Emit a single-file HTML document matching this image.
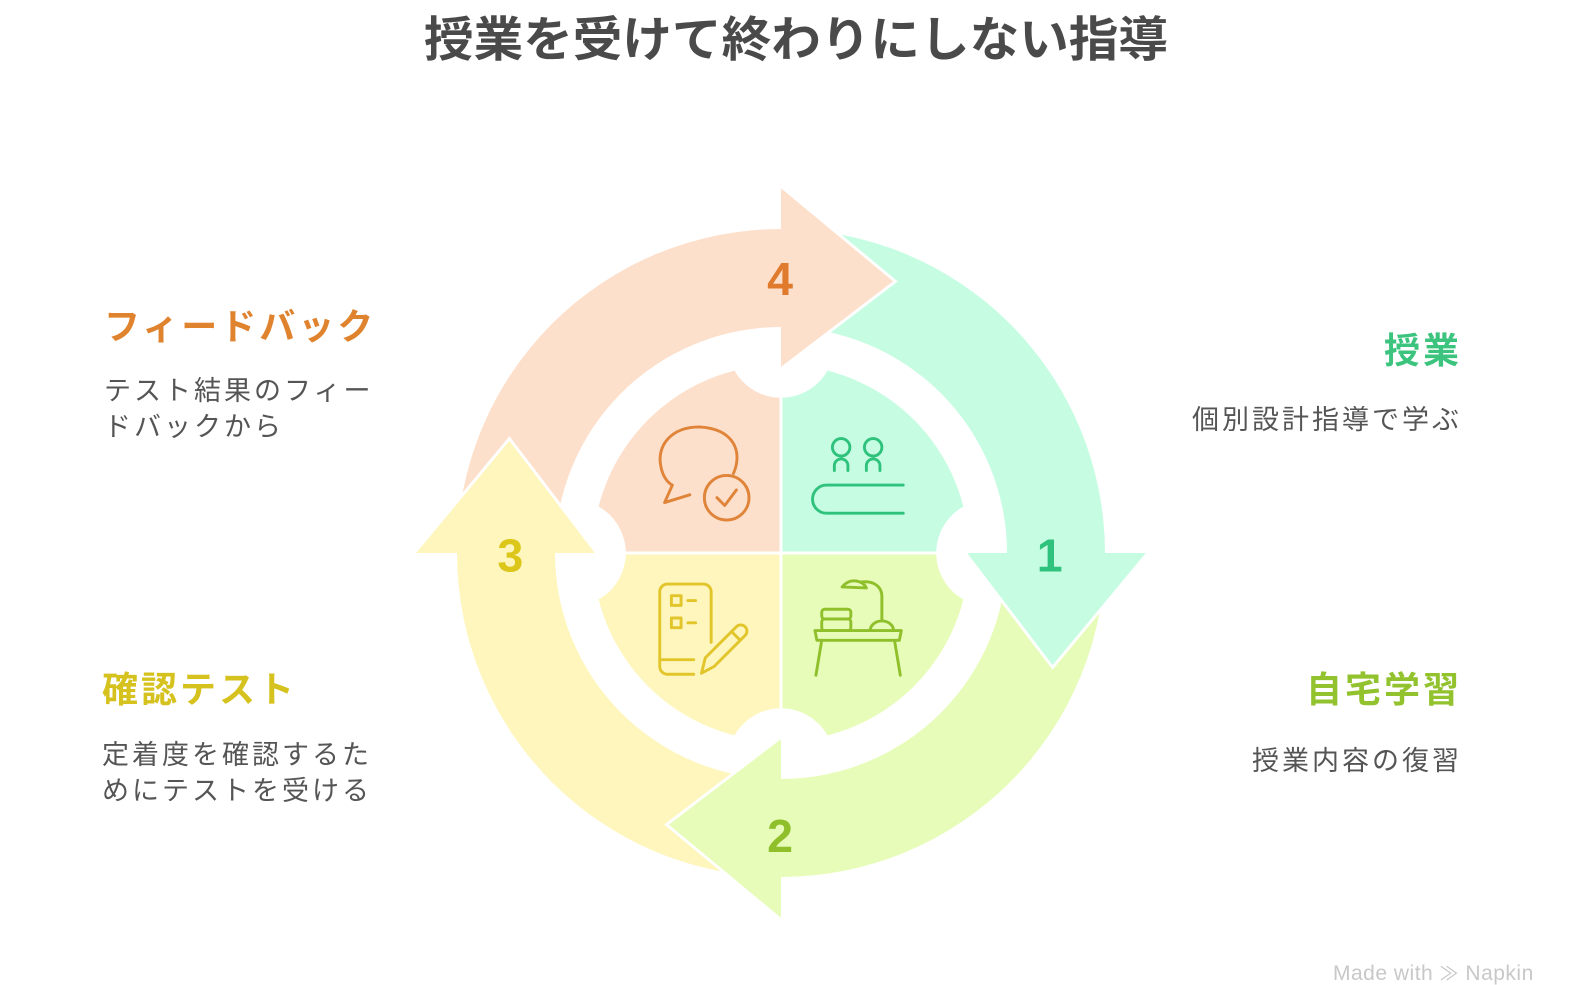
<!DOCTYPE html>
<html><head><meta charset="utf-8"><style>
body{margin:0;background:#fff;width:1584px;height:982px;overflow:hidden;position:relative;font-family:"Liberation Sans","Noto Sans CJK JP",sans-serif}
.t{position:absolute;white-space:nowrap;line-height:1}
</style></head><body>

<div class="t" style="left:104px;top:309px;font-size:36px;font-weight:bold;color:#e0832e;letter-spacing:3px">フィードバック</div>
<div class="t" style="left:104px;top:378px;font-size:27px;color:#555;letter-spacing:3px">テスト結果のフィー</div>
<div class="t" style="left:104px;top:414px;font-size:27px;color:#555;letter-spacing:3px">ドバックから</div>

<div class="t" style="left:102px;top:672px;font-size:36px;font-weight:bold;color:#d6c21e;letter-spacing:3px">確認テスト</div>
<div class="t" style="left:102px;top:742px;font-size:27px;color:#555;letter-spacing:3px">定着度を確認するた</div>
<div class="t" style="left:102px;top:778px;font-size:27px;color:#555;letter-spacing:3px">めにテストを受ける</div>

<div class="t" style="right:122px;top:333px;font-size:36px;font-weight:bold;color:#3cc47f;letter-spacing:3px">授業</div>
<div class="t" style="right:122px;top:407px;font-size:27px;color:#555;letter-spacing:3px">個別設計指導で学ぶ</div>

<div class="t" style="right:122px;top:672px;font-size:36px;font-weight:bold;color:#92c22e;letter-spacing:3px">自宅学習</div>
<div class="t" style="right:122px;top:748px;font-size:27px;color:#555;letter-spacing:3px">授業内容の復習</div>

<div class="t" style="left:1333px;top:963px;font-size:21px;color:#c8c8c8;letter-spacing:0.5px">Made with <span style="font-size:19px">≫</span> Napkin</div>

<svg width="1584" height="982" style="position:absolute;left:0;top:0">
<text x="424" y="56" font-size="48" font-weight="bold" fill="#4a4a4a" textLength="744" lengthAdjust="spacingAndGlyphs" font-family="Liberation Sans, Noto Sans CJK JP, sans-serif">授業を受けて終わりにしない指導</text>
<g transform="translate(781,553) scale(0.97) translate(-784,-560)">
<path d="M784 560 L784 366 A194 194 0 0 0 590 560 Z" fill="#fde0cb"/>
<path d="M784 560 L784 366 A194 194 0 0 1 978 560 Z" fill="#c6fde2"/>
<path d="M784 560 L978 560 A194 194 0 0 1 784 754 Z" fill="#e7fcb8"/>
<path d="M784 560 L784 754 A194 194 0 0 1 590 560 Z" fill="#fef6bc"/>
<line x1="784" y1="340" x2="784" y2="780" stroke="#fff" stroke-width="3"/>
<line x1="564" y1="560" x2="1004" y2="560" stroke="#fff" stroke-width="3"/>
<circle cx="784" cy="345" r="55" fill="#fff"/>
<circle cx="784" cy="775" r="55" fill="#fff"/>
<circle cx="569" cy="560" r="55" fill="#fff"/>
<circle cx="999" cy="560" r="55" fill="#fff"/>

<path d="M450 560 A334 334 0 0 1 784 226 L784 327 A233 233 0 0 0 551 560 Z" fill="#fde0cb"/>
<path d="M784 226 A334 334 0 0 1 1118 560 L1017 560 A233 233 0 0 0 784 327 Z" fill="#c6fde2"/>
<path d="M1118 560 A334 334 0 0 1 784 894 L784 793 A233 233 0 0 0 1017 560 Z" fill="#e7fcb8"/>
<path d="M784 894 A334 334 0 0 1 450 560 L551 560 A233 233 0 0 0 784 793 Z" fill="#fef6bc"/>
<path d="M784 182 L902 280 L784 370 Z" fill="#fde0cb"/>
<path d="M784 182 L902 280 L784 370" fill="none" stroke="#fff" stroke-width="3"/>
<path d="M1162 560 L1064 678 L974 560 Z" fill="#c6fde2"/>
<path d="M1162 560 L1064 678 L974 560" fill="none" stroke="#fff" stroke-width="3"/>
<path d="M784 938 L666 840 L784 750 Z" fill="#e7fcb8"/>
<path d="M784 938 L666 840 L784 750" fill="none" stroke="#fff" stroke-width="3"/>
<path d="M406 560 L504 442 L594 560 Z" fill="#fef6bc"/>
<path d="M406 560 L504 442 L594 560" fill="none" stroke="#fff" stroke-width="3"/>

<g font-family="Liberation Sans, sans-serif" font-weight="bold" font-size="48" text-anchor="middle">
<text x="783" y="294" fill="#e07b2e">4</text>
<text x="1061" y="579" fill="#2fc27c">1</text>
<text x="783" y="868" fill="#8fbf2a">2</text>
<text x="505" y="579" fill="#dcc61a">3</text>
</g>

<g fill="none" stroke-width="3" stroke-linecap="round" stroke-linejoin="round">
<g stroke="#e0843a">
<path d="M735 478 C745 455 735 432 700 430 C670 430 656 450 660 470 C662 482 668 488 672 490 L664 508 L690 500"/>
<circle cx="728" cy="503" r="23"/>
<path d="M718 503 L726 511 L738 495"/>
</g>
<g stroke="#2fc27c">
<circle cx="846" cy="451" r="9"/><circle cx="879" cy="451" r="9"/>
<path d="M839 475 V470 A7 7 0 0 1 853 470 V475 M872 475 V470 A7 7 0 0 1 886 470 V475"/>
<path d="M910 490 H831 A14 14 0 0 0 831 519 H910"/>
</g>
<g stroke="#e2c52a">
<path d="M712 652 V600 A8 8 0 0 0 704 592 H667 A8 8 0 0 0 659 600 V677 A8 8 0 0 0 667 685 H694"/>
<path d="M659 670 H694"/>
<rect x="671" y="604" width="10" height="10"/><rect x="671" y="627" width="10" height="10"/>
<path d="M688 609 H696 M688 632 H696"/>
<path d="M702 684 L706 668 L738 636 A6 6 0 0 1 747 645 L715 677 Z M733 641 L742 650"/>
</g>
<g stroke="#8fbf2a">
<path d="M819 640 H908 L906 650 H821 Z"/>
<path d="M826 650 L820 686 M901 650 L907 686"/>
<rect x="826" y="618" width="30" height="10" rx="3"/><rect x="826" y="628" width="30" height="12" rx="3"/>
<path d="M847 595 C855 585 868 588 872 596 Z"/>
<path d="M866 590 C880 588 888 595 888 605 V630 M876 640 A12 10 0 0 1 900 640"/>
</g>
</g>
</g>
</svg>
</body></html>
